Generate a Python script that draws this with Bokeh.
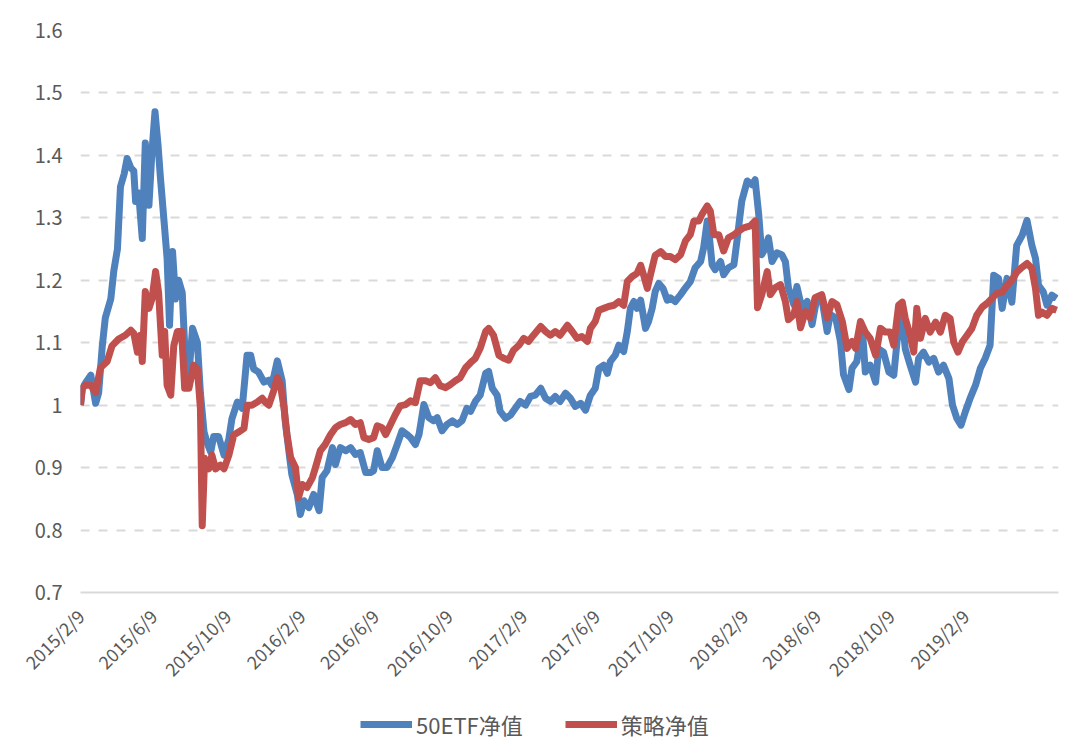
import math
import pandas as pd
from bokeh.plotting import figure
from bokeh.layouts import column
from bokeh.models import Range1d, FixedTicker, Legend, LegendItem, ColumnDataSource
from bokeh.embed import file_html
from bokeh.resources import INLINE

# ---------------- data ----------------
start_date = "2015-02-09"       # first trading day shown (day 0)
end_day = 1615                  # last day shown, days after start_date

tick_dates = ["2015-02-09", "2015-06-09", "2015-10-09", "2016-02-09", "2016-06-09",
              "2016-10-09", "2017-02-09", "2017-06-09", "2017-10-09", "2018-02-09",
              "2018-06-09", "2018-10-09", "2019-02-09"]
tick_labels = ["2015/2/9", "2015/6/9", "2015/10/9", "2016/2/9", "2016/6/9",
               "2016/10/9", "2017/2/9", "2017/6/9", "2017/10/9", "2018/2/9",
               "2018/6/9", "2018/10/9", "2019/2/9"]

y_ticks = [0.7, 0.8, 0.9, 1.0, 1.1, 1.2, 1.3, 1.4, 1.5, 1.6]
y_labels = ["0.7", "0.8", "0.9", "1", "1.1", "1.2", "1.3", "1.4", "1.5", "1.6"]

series_names = ["50ETF净值", "策略净值"]

# 50ETF net value: (days after start_date, value)
etf_points = [
    (0, 1.0), (3, 1.027), (8, 1.035), (17, 1.048), (25, 1.003), (30, 1.02), (36, 1.095),
    (41, 1.14), (50, 1.17), (55, 1.215), (61, 1.25), (66, 1.35), (72, 1.37), (77, 1.395),
    (83, 1.38), (88, 1.375), (91, 1.326), (96, 1.34), (102, 1.267), (107, 1.42), (113, 1.32),
    (118, 1.406), (123, 1.47), (128, 1.417), (132, 1.364), (138, 1.294), (143, 1.235),
    (147, 1.128), (152, 1.246), (157, 1.17), (162, 1.2), (168, 1.18), (173, 1.075),
    (179, 1.048), (185, 1.123), (193, 1.1), (198, 1.02), (204, 0.957), (209, 0.94),
    (215, 0.925), (220, 0.95), (228, 0.95), (237, 0.92), (245, 0.946), (250, 0.978),
    (259, 1.005), (267, 0.995), (275, 1.08), (281, 1.08), (286, 1.058), (294, 1.053),
    (303, 1.037), (311, 1.04), (316, 1.032),
    (325, 1.071), (333, 1.039), (338, 0.975), (344, 0.927), (349, 0.889), (358, 0.857),
    (363, 0.825), (369, 0.847), (377, 0.836), (385, 0.857), (394, 0.831), (399, 0.884),
    (407, 0.895), (416, 0.932), (421, 0.905), (429, 0.932), (438, 0.927), (446, 0.932),
    (454, 0.921), (462, 0.924), (471, 0.892), (479, 0.892), (484, 0.895), (490, 0.927),
    (498, 0.9), (506, 0.9), (515, 0.916), (523, 0.937), (531, 0.959), (539, 0.953),
    (545, 0.948), (553, 0.937), (559, 0.953), (567, 1.001), (575, 0.98), (583, 0.975),
    (589, 0.98), (597, 0.959), (605, 0.969), (614, 0.975), (622, 0.969), (630, 0.975),
    (638, 0.995),
    (644, 0.99), (652, 1.006), (660, 1.016), (669, 1.051), (674, 1.054), (680, 1.027),
    (688, 1.016), (693, 0.99), (702, 0.979), (710, 0.984), (718, 0.995), (726, 1.006),
    (735, 1.0), (743, 1.014), (751, 1.016), (760, 1.027), (768, 1.011), (776, 1.006),
    (784, 1.014), (792, 1.006), (801, 1.019), (809, 1.011), (817, 0.998), (826, 1.003),
    (834, 0.992), (842, 1.016), (850, 1.027), (856, 1.059), (864, 1.064), (870, 1.051),
    (875, 1.07), (883, 1.08), (889, 1.096), (897, 1.086), (903, 1.118), (908, 1.155),
    (914, 1.166), (919, 1.155), (925, 1.168), (933, 1.123), (938, 1.134), (944, 1.155),
    (949, 1.182), (955, 1.195), (962, 1.187), (969, 1.168),
    (974, 1.172), (982, 1.166), (991, 1.177), (999, 1.188), (1007, 1.198), (1015, 1.22),
    (1024, 1.23), (1029, 1.252), (1035, 1.295), (1037, 1.284), (1043, 1.225), (1048, 1.217),
    (1057, 1.23), (1062, 1.209), (1070, 1.22), (1079, 1.225), (1084, 1.263), (1092, 1.327),
    (1101, 1.359), (1109, 1.353), (1114, 1.361), (1120, 1.305), (1125, 1.241), (1131, 1.252),
    (1136, 1.268), (1142, 1.23), (1150, 1.244), (1158, 1.241), (1164, 1.23), (1169, 1.188),
    (1178, 1.161), (1183, 1.19), (1191, 1.156), (1200, 1.166), (1208, 1.129), (1216, 1.172),
    (1224, 1.172), (1233, 1.118), (1238, 1.145), (1247, 1.14), (1255, 1.102), (1260, 1.049),
    (1269, 1.025), (1274, 1.059), (1282, 1.07), (1291, 1.124),
    (1296, 1.053), (1304, 1.064), (1313, 1.037), (1318, 1.09), (1326, 1.085), (1335, 1.053),
    (1343, 1.048), (1351, 1.128), (1357, 1.139), (1362, 1.09), (1370, 1.064), (1379, 1.037),
    (1384, 1.075), (1392, 1.085), (1401, 1.069), (1409, 1.075), (1417, 1.053), (1425, 1.064),
    (1434, 1.043), (1440, 1.0), (1447, 0.979), (1454, 0.968), (1461, 0.989), (1469, 1.011),
    (1478, 1.032), (1486, 1.059), (1494, 1.075), (1502, 1.096), (1508, 1.208), (1516, 1.203),
    (1522, 1.155), (1530, 1.203), (1538, 1.165), (1546, 1.256), (1555, 1.272), (1563, 1.296),
    (1571, 1.256), (1577, 1.235), (1582, 1.192), (1590, 1.181), (1596, 1.16), (1604, 1.176),
    (1612, 1.171),
]

# strategy net value: (days after start_date, value)
strategy_points = [
    (0, 1.0), (3, 1.027), (8, 1.032), (17, 1.032), (25, 1.02), (33, 1.06), (44, 1.07),
    (52, 1.095), (63, 1.106), (74, 1.112), (83, 1.12), (88, 1.115), (94, 1.085), (99, 1.112),
    (102, 1.07), (107, 1.182), (113, 1.155), (118, 1.17), (124, 1.214), (129, 1.18),
    (135, 1.08), (139, 1.118), (143, 1.032), (149, 1.016), (154, 1.095), (160, 1.118),
    (167, 1.118), (172, 1.027), (179, 1.027), (187, 1.064), (193, 1.058), (198, 0.995),
    (201, 0.807), (205, 0.915), (212, 0.898), (217, 0.92), (223, 0.898), (231, 0.904),
    (237, 0.898), (245, 0.92), (253, 0.952), (261, 0.957), (270, 0.963), (275, 1.0),
    (283, 1.0), (292, 1.005), (300, 1.011), (305, 1.005), (311, 1.0),
    (319, 1.023), (325, 1.044), (330, 1.033), (336, 0.996), (341, 0.953), (347, 0.916),
    (355, 0.9), (360, 0.852), (366, 0.873), (374, 0.868), (383, 0.884), (388, 0.9),
    (396, 0.927), (404, 0.937), (413, 0.953), (421, 0.964), (429, 0.969), (438, 0.972),
    (446, 0.977), (454, 0.969), (462, 0.972), (468, 0.948), (476, 0.945), (484, 0.948),
    (490, 0.967), (498, 0.964), (504, 0.953), (512, 0.969), (520, 0.985), (528, 0.999),
    (537, 1.001), (545, 1.007), (553, 1.004), (561, 1.039), (570, 1.039), (578, 1.036),
    (586, 1.044), (594, 1.031), (603, 1.028), (611, 1.033), (619, 1.039), (627, 1.044),
    (636, 1.06), (644, 1.068),
    (652, 1.075), (660, 1.091), (669, 1.118), (674, 1.123), (682, 1.112), (691, 1.08),
    (699, 1.075), (707, 1.072), (715, 1.088), (724, 1.096), (732, 1.107), (740, 1.102),
    (748, 1.112), (760, 1.126), (768, 1.118), (776, 1.112), (784, 1.118), (792, 1.112),
    (804, 1.128), (812, 1.118), (820, 1.107), (828, 1.11), (837, 1.102), (842, 1.123),
    (850, 1.134), (856, 1.152), (864, 1.155), (872, 1.158), (881, 1.16), (889, 1.166),
    (897, 1.16), (903, 1.198), (911, 1.206), (919, 1.211), (925, 1.224), (930, 1.208),
    (936, 1.187), (941, 1.208), (949, 1.24), (958, 1.246), (966, 1.238), (974, 1.238),
    (982, 1.233), (991, 1.241), (999, 1.263), (1007, 1.273), (1013, 1.295), (1021, 1.295),
    (1026, 1.305), (1035, 1.319), (1040, 1.311), (1046, 1.273), (1054, 1.273), (1062, 1.247),
    (1070, 1.268), (1079, 1.273), (1087, 1.279), (1095, 1.284), (1106, 1.287), (1114, 1.295),
    (1118, 1.156), (1125, 1.177), (1134, 1.214), (1139, 1.177), (1147, 1.188), (1156, 1.193),
    (1164, 1.166), (1169, 1.137), (1178, 1.145), (1183, 1.166), (1189, 1.124), (1197, 1.15),
    (1205, 1.14), (1213, 1.172), (1224, 1.177), (1233, 1.14), (1241, 1.166), (1249, 1.161),
    (1258, 1.134), (1266, 1.091), (1274, 1.102), (1280, 1.091), (1288, 1.134),
    (1296, 1.117), (1304, 1.107), (1313, 1.08), (1321, 1.123), (1329, 1.117), (1337, 1.117),
    (1343, 1.096), (1351, 1.16), (1357, 1.165), (1362, 1.139), (1370, 1.112), (1376, 1.085),
    (1381, 1.155), (1387, 1.107), (1395, 1.139), (1403, 1.117), (1412, 1.133), (1420, 1.117),
    (1428, 1.144), (1436, 1.139), (1442, 1.101), (1449, 1.085), (1456, 1.101), (1464, 1.112),
    (1472, 1.123), (1480, 1.144), (1489, 1.157), (1497, 1.163), (1505, 1.171), (1513, 1.179),
    (1522, 1.181), (1530, 1.192), (1538, 1.2), (1546, 1.213), (1555, 1.221), (1563, 1.227),
    (1571, 1.219), (1577, 1.187), (1582, 1.144), (1588, 1.149), (1596, 1.144), (1604, 1.155),
    (1612, 1.152),
]

# ---------------- styling ----------------
BLUE = "#4F81BD"
RED = "#C0504D"
GRID = "#D9D9D9"
TEXT = "#595959"
FONT = "Noto Sans CJK SC"
LW = 7

start = pd.Timestamp(start_date)
tick_days = [(pd.Timestamp(d) - start).days for d in tick_dates]

etf_src = ColumnDataSource(dict(x=[d for d, v in etf_points], y=[v for d, v in etf_points]))
str_src = ColumnDataSource(dict(x=[d for d, v in strategy_points], y=[v for d, v in strategy_points]))

p = figure(width=1072, height=706,
           x_range=Range1d(0, end_day), y_range=Range1d(y_ticks[0], y_ticks[-1]),
           output_backend="svg", toolbar_location=None,
           min_border_left=80, min_border_right=14, min_border_top=30, min_border_bottom=114)
p.outline_line_color = None
p.xgrid.visible = False
p.ygrid.grid_line_color = GRID
p.ygrid.grid_line_width = 2
p.ygrid.grid_line_dash = "9 9"

p.yaxis.ticker = FixedTicker(ticks=y_ticks)
p.yaxis.major_label_overrides = {t: lab for t, lab in zip(y_ticks, y_labels)}
p.yaxis.axis_line_color = None
p.yaxis.major_tick_line_color = None
p.yaxis.minor_tick_line_color = None
p.yaxis.major_tick_out = 0
p.yaxis.major_tick_in = 0
p.yaxis.major_label_text_font = FONT
p.yaxis.major_label_text_font_size = "20px"
p.yaxis.major_label_text_color = TEXT
p.yaxis.major_label_standoff = 18

p.xaxis.ticker = FixedTicker(ticks=tick_days)
p.xaxis.major_label_overrides = {t: lab for t, lab in zip(tick_days, tick_labels)}
p.xaxis.major_label_orientation = math.pi / 4
p.xaxis.axis_line_color = GRID
p.xaxis.axis_line_width = 2
p.xaxis.major_tick_line_color = None
p.xaxis.minor_tick_line_color = None
p.xaxis.major_tick_out = 0
p.xaxis.major_tick_in = 0
p.xaxis.major_label_text_font = FONT
p.xaxis.major_label_text_font_size = "18px"
p.xaxis.major_label_text_color = TEXT
p.xaxis.major_label_standoff = 20

p.line("x", "y", source=etf_src, line_color=BLUE, line_width=LW, line_join="round")
p.line("x", "y", source=str_src, line_color=RED, line_width=LW, line_join="round")

# legend strip below the chart (its ranges keep the series themselves out of view)
q = figure(width=1072, height=40, x_range=Range1d(-20, -10), y_range=Range1d(0, 1),
           output_backend="svg", toolbar_location=None, min_border=0,
           x_axis_location=None, y_axis_location=None)
q.outline_line_color = None
q.grid.visible = False
k_etf = q.line("x", "y", source=etf_src, line_color=BLUE, line_width=LW)
k_str = q.line("x", "y", source=str_src, line_color=RED, line_width=LW)
legend = Legend(items=[LegendItem(label=series_names[0], renderers=[k_etf]),
                       LegendItem(label=series_names[1], renderers=[k_str])],
                location=(280, 6), orientation="horizontal",
                border_line_color=None, background_fill_alpha=0,
                padding=0, margin=0, spacing=42, label_standoff=4,
                glyph_width=52, glyph_height=24,
                label_text_font=FONT, label_text_font_size="22px", label_text_color=TEXT)
q.add_layout(legend)

layout = column(p, q, spacing=0)
open("out.html", "w").write(file_html(layout, INLINE))
